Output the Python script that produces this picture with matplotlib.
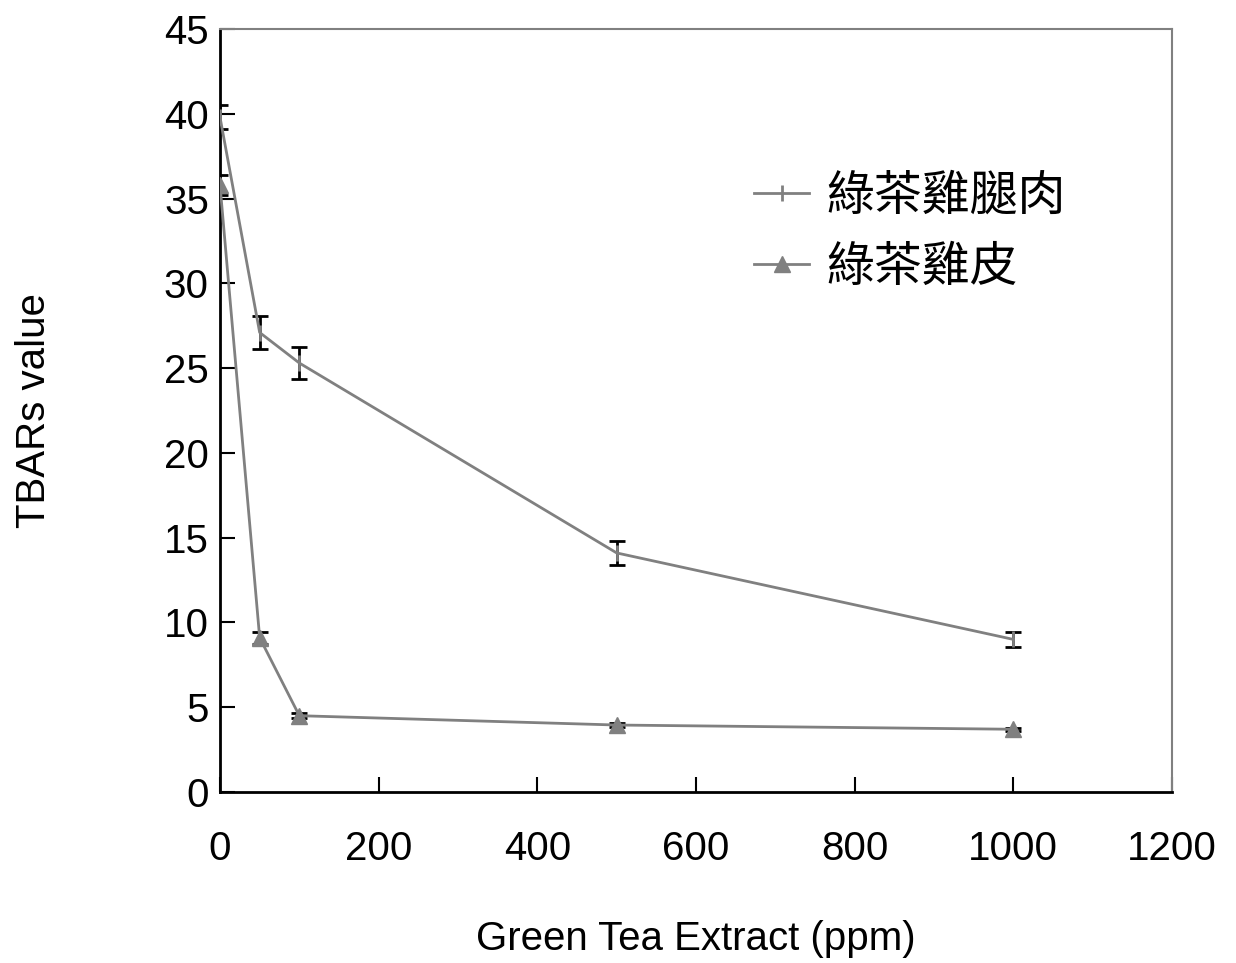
import matplotlib
matplotlib.use("Agg")
import matplotlib.pyplot as plt

# TBARs value vs green tea extract dose
dose = [0, 50, 100, 500, 1000]
thigh = [39.8, 27.1, 25.3, 14.1, 9.0]
thigh_err = [0.7, 1.0, 0.95, 0.7, 0.45]
skin = [35.8, 9.1, 4.5, 3.95, 3.7]
skin_err = [0.6, 0.35, 0.15, 0.1, 0.1]
labels = ["綠茶雞腿肉", "綠茶雞皮"]

xticks = [0, 200, 400, 600, 800, 1000, 1200]
yticks = list(range(0, 50, 5))

plt.rcParams['font.family'] = ['Liberation Sans', 'DejaVu Sans']

fig = plt.figure(figsize=(12.36, 9.63), dpi=100)
ax = fig.add_axes([220 / 1236, (963 - 792) / 963, 952 / 1236, 763 / 963])

grey = '#808080'
ax.errorbar(dose, thigh, yerr=thigh_err, color=grey, lw=2, marker='|', ms=12, mew=2,
            ecolor='black', elinewidth=2, capsize=5.8, capthick=2, label=labels[0], zorder=3)
ax.errorbar(dose, skin, yerr=skin_err, color=grey, lw=2, marker='^', ms=11,
            ecolor='black', elinewidth=2, capsize=5.8, capthick=2, label=labels[1], zorder=3)

ax.set_xlim(0, 1200)
ax.set_ylim(0, 45)
ax.set_xticks(xticks)
ax.set_yticks(yticks)
ax.tick_params(direction='in', length=11, width=1.5, labelsize=29)
ax.tick_params(axis='x', pad=27)
ax.tick_params(axis='y', pad=8)

for side in ['left', 'bottom']:
    ax.spines[side].set_color('black')
    ax.spines[side].set_linewidth(2)
for side in ['top', 'right']:
    ax.spines[side].set_color(grey)
    ax.spines[side].set_linewidth(1.5)

ax.set_xlabel('Green Tea Extract (ppm)', fontsize=29, labelpad=38)
ax.set_ylabel('TBARs value', fontsize=29, labelpad=80)

handles, _ = ax.get_legend_handles_labels()
handles = [h[0] for h in handles]
leg = ax.legend(handles, labels, loc='upper left', bbox_to_anchor=(711 / 1236, 1 - 128 / 963),
                bbox_transform=fig.transFigure, frameon=False, handlelength=1.15,
                handletextpad=0.35, labelspacing=0.45,
                prop={'family': ['Noto Sans CJK TC', 'DejaVu Sans'], 'size': 34.5})

fig.savefig('out.png', dpi=100)
